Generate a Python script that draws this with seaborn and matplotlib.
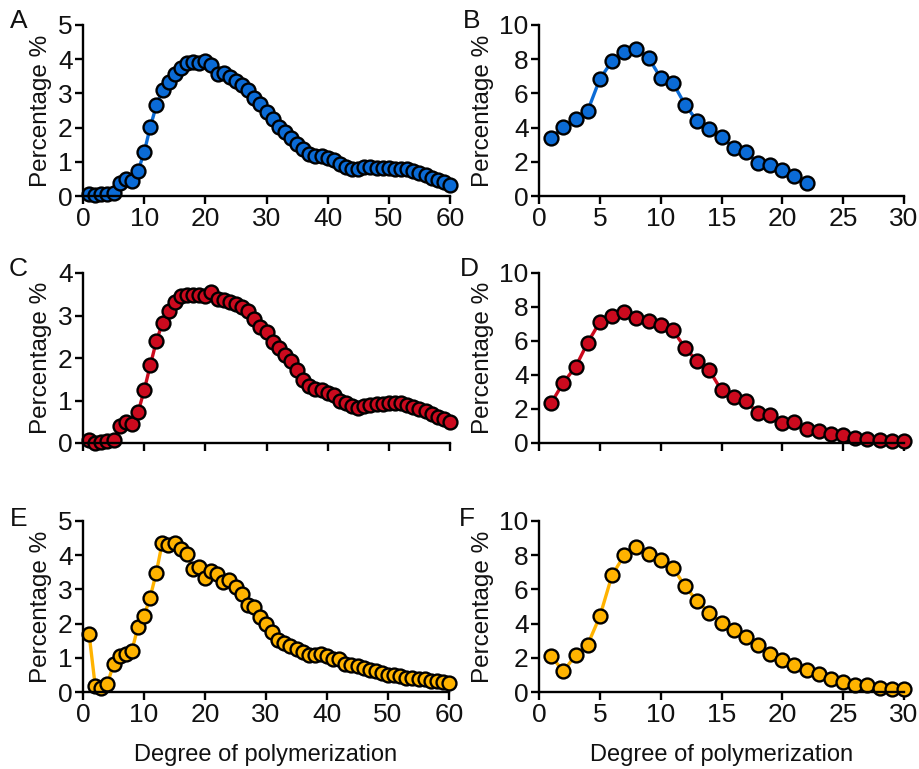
import matplotlib
matplotlib.use("Agg")
import matplotlib.pyplot as plt
import seaborn as sns
import numpy as np
import pandas as pd

sns.set_theme(style="ticks")
plt.rcParams['font.family'] = ['Liberation Sans', 'DejaVu Sans']

# ---- data ----
dp60 = list(range(1, 61))
dp22 = list(range(1, 23))
dp30 = list(range(1, 31))

a_vals = [0.07, 0.02, 0.05, 0.07, 0.09, 0.38, 0.49, 0.43, 0.73, 1.28,
          2.02, 2.65, 3.10, 3.34, 3.56, 3.73, 3.90, 3.93, 3.90, 3.95,
          3.82, 3.58, 3.61, 3.47, 3.36, 3.24, 3.10, 2.88, 2.70, 2.46,
          2.24, 2.02, 1.87, 1.70, 1.53, 1.37, 1.24, 1.16, 1.16, 1.12,
          1.04, 0.95, 0.85, 0.80, 0.80, 0.85, 0.85, 0.83, 0.83, 0.82,
          0.80, 0.78, 0.78, 0.73, 0.67, 0.60, 0.53, 0.48, 0.41, 0.33]

b_vals = [3.42, 4.02, 4.49, 4.98, 6.84, 7.89, 8.44, 8.59, 8.09, 6.91,
          6.62, 5.35, 4.38, 3.93, 3.46, 2.81, 2.56, 1.93, 1.80, 1.50,
          1.17, 0.78]

c_vals = [0.08, 0.00, 0.02, 0.04, 0.06, 0.40, 0.49, 0.45, 0.72, 1.24,
          1.83, 2.40, 2.83, 3.10, 3.32, 3.45, 3.49, 3.49, 3.49, 3.47,
          3.55, 3.40, 3.36, 3.32, 3.28, 3.20, 3.10, 2.91, 2.73, 2.61,
          2.38, 2.24, 2.08, 1.92, 1.71, 1.49, 1.34, 1.28, 1.24, 1.18,
          1.12, 1.00, 0.93, 0.86, 0.83, 0.86, 0.89, 0.91, 0.91, 0.93,
          0.93, 0.93, 0.90, 0.85, 0.79, 0.75, 0.69, 0.61, 0.56, 0.49]

d_vals = [2.35, 3.55, 4.47, 5.90, 7.12, 7.47, 7.70, 7.37, 7.18, 6.92,
          6.63, 5.61, 4.80, 4.27, 3.10, 2.71, 2.47, 1.76, 1.67, 1.20,
          1.24, 0.80, 0.71, 0.55, 0.49, 0.29, 0.22, 0.16, 0.10, 0.14]

e_vals = [1.69, 0.18, 0.13, 0.24, 0.81, 1.05, 1.10, 1.20, 1.90, 2.22,
          2.76, 3.48, 4.37, 4.31, 4.36, 4.19, 4.04, 3.61, 3.65, 3.33,
          3.53, 3.46, 3.22, 3.27, 3.07, 2.88, 2.53, 2.49, 2.19, 2.00,
          1.75, 1.51, 1.43, 1.34, 1.25, 1.17, 1.09, 1.07, 1.12, 1.04,
          0.97, 0.96, 0.83, 0.80, 0.75, 0.70, 0.65, 0.60, 0.56, 0.51,
          0.49, 0.46, 0.42, 0.41, 0.37, 0.37, 0.32, 0.32, 0.29, 0.26]

f_vals = [2.10, 1.21, 2.14, 2.77, 4.42, 6.82, 7.99, 8.48, 8.09, 7.70,
          7.27, 6.20, 5.30, 4.64, 4.05, 3.61, 3.22, 2.73, 2.24, 1.85,
          1.56, 1.27, 1.03, 0.74, 0.58, 0.43, 0.43, 0.25, 0.19, 0.19]

letters = ["A", "B", "C", "D", "E", "F"]
blue, red, orange = "#0B6BD6", "#CC0A1E", "#FFB300"

W, H = 919, 769
fig = plt.figure(figsize=(W / 100, H / 100), dpi=100)
fig.patch.set_facecolor("white")

def px_axes(l, r, t, b):
    return fig.add_axes([l / W, 1 - b / H, (r - l) / W, (b - t) / H])

panels = [
    (dp60, a_vals, blue, 60, 10, 5, 1, (83, 450, 25, 196), (19, 21), True, False),
    (dp22, b_vals, blue, 30, 5, 10, 2, (539, 904, 25, 196), (472, 21), True, False),
    (dp60, c_vals, red, 60, 10, 4, 1, (83, 450, 273, 443), (18, 269), False, False),
    (dp30, d_vals, red, 30, 5, 10, 2, (539, 904, 273, 443), (469, 269), False, False),
    (dp60, e_vals, orange, 60, 10, 5, 1, (83, 449, 521, 692), (19, 519), True, True),
    (dp30, f_vals, orange, 30, 5, 10, 2, (539, 904, 521, 692), (467, 519), True, True),
]

for letter, (xs, ys, col, xmax, xstep, ymax, ystep, rect, lpos, xtl, xlab) in zip(letters, panels):
    ax = px_axes(*rect)
    df = pd.DataFrame({"dp": xs, "pct": ys})
    sns.lineplot(data=df, x="dp", y="pct", ax=ax, color=col, linewidth=2.4,
                 marker="o", markersize=10, markerfacecolor=col,
                 markeredgecolor="black", markeredgewidth=1.7, clip_on=False)
    ax.set_xlim(0, xmax)
    ax.set_ylim(0, ymax)
    ax.set_xticks(np.arange(0, xmax + 1, xstep))
    ax.set_yticks(np.arange(0, ymax + 1, ystep))
    sns.despine(ax=ax)
    for s in ("left", "bottom"):
        ax.spines[s].set_linewidth(1.7)
        ax.spines[s].set_color("black")
    ax.tick_params(axis="both", length=6, width=1.7, color="black",
                   labelsize=19, labelcolor="#111111", pad=1.5)
    ax.tick_params(axis="x", pad=2)
    if not xtl:
        ax.set_xticklabels([])
    ax.set_ylabel("Percentage %", fontsize=17.5, color="#111111", labelpad=4)
    if xlab:
        ax.set_xlabel("Degree of polymerization", fontsize=17, color="#111111", labelpad=12)
    else:
        ax.set_xlabel("")
    ax.set_facecolor("white")
    fig.text(lpos[0] / W, 1 - lpos[1] / H, letter, fontsize=19, color="#111111",
             ha="center", va="center")

fig.savefig("out.png", dpi=100, facecolor="white")
